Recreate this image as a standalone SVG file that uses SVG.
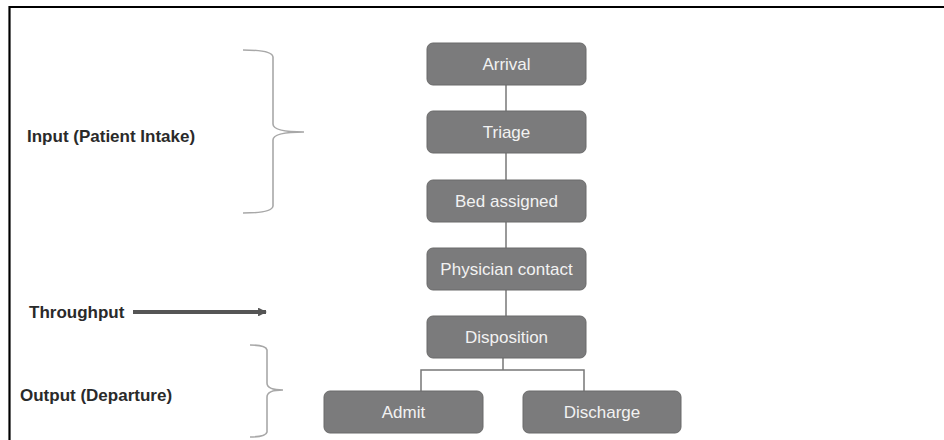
<svg xmlns="http://www.w3.org/2000/svg" width="944" height="440" viewBox="0 0 944 440">
  <defs>
    <style>
      .box { fill: #7b7b7c; stroke: #6a6a6a; stroke-width: 1; }
      .node-text { font-family: "Liberation Sans", Arial, sans-serif; font-size: 17px; fill: #f2f2f2; text-anchor: middle; }
      .label { font-family: "Liberation Sans", Arial, sans-serif; font-size: 17px; font-weight: bold; fill: #2a2a2a; }
      .link { stroke: #777; stroke-width: 1.5; fill: none; }
      .brace { stroke: #a8a8a8; stroke-width: 1.6; fill: none; }
    </style>
    <marker id="head" viewBox="0 0 10 10" refX="9" refY="5" markerWidth="2.2" markerHeight="2.2" orient="auto">
      <path d="M0,0 L10,5 L0,10 Z" fill="#555"/>
    </marker>
  </defs>

  <rect width="944" height="440" fill="#ffffff"/>
  <!-- frame -->
  <path d="M9.5,440 V7 H944" stroke="#000" stroke-width="2.2" fill="none"/>

  <!-- connectors -->
  <g id="connectors">
    <line class="link" x1="506" y1="85" x2="506" y2="111"/>
    <line class="link" x1="506" y1="153" x2="506" y2="180"/>
    <line class="link" x1="506" y1="222" x2="506" y2="248"/>
    <line class="link" x1="506" y1="290" x2="506" y2="316"/>
    <path class="link" d="M503,358 V370 M421,391 V370 H584 V391"/>
  </g>

  <!-- process steps -->
  <g id="arrival">
    <rect class="box" x="427" y="43" width="159" height="42" rx="6"/>
    <text class="node-text" x="506.5" y="70">Arrival</text>
  </g>
  <g id="triage">
    <rect class="box" x="427" y="111" width="159" height="42" rx="6"/>
    <text class="node-text" x="506.5" y="138">Triage</text>
  </g>
  <g id="bed-assigned">
    <rect class="box" x="427" y="180" width="159" height="42" rx="6"/>
    <text class="node-text" x="506.5" y="207">Bed assigned</text>
  </g>
  <g id="physician-contact">
    <rect class="box" x="427" y="248" width="159" height="42" rx="6"/>
    <text class="node-text" x="506.5" y="275">Physician contact</text>
  </g>
  <g id="disposition">
    <rect class="box" x="427" y="316" width="159" height="42" rx="6"/>
    <text class="node-text" x="506.5" y="343">Disposition</text>
  </g>
  <g id="admit">
    <rect class="box" x="324" y="391" width="159" height="42" rx="6"/>
    <text class="node-text" x="403.5" y="418">Admit</text>
  </g>
  <g id="discharge">
    <rect class="box" x="523" y="391" width="158" height="42" rx="6"/>
    <text class="node-text" x="602" y="418">Discharge</text>
  </g>

  <!-- phase labels -->
  <g id="input-phase">
    <text class="label" x="27" y="142">Input (Patient Intake)</text>
    <path class="brace" d="M243,50 Q272,50 273,57 V124 Q273,132 304,132 Q273,132 273,140 V206 Q272,213 243,213"/>
  </g>
  <g id="throughput-phase">
    <text class="label" x="29" y="318">Throughput</text>
    <line x1="133" y1="312" x2="266" y2="312" stroke="#555" stroke-width="4" marker-end="url(#head)"/>
  </g>
  <g id="output-phase">
    <text class="label" x="20" y="401">Output (Departure)</text>
    <path class="brace" d="M250,345 Q266,345 267,350 V383 Q267,390 283,390 Q267,390 267,397 V432 Q266,437 250,437"/>
  </g>
</svg>
